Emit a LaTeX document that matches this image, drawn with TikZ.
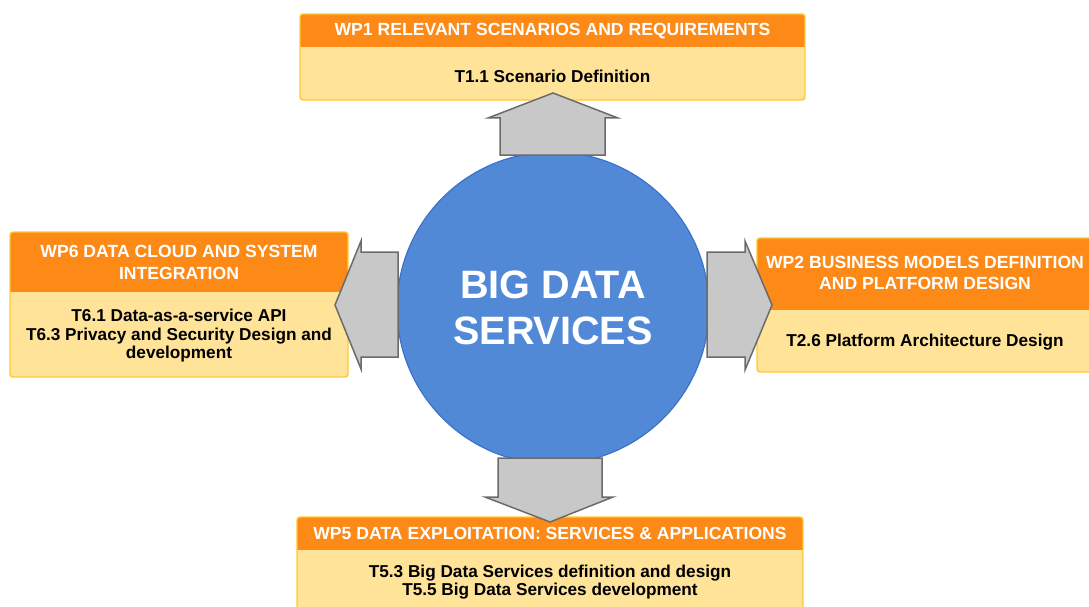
\documentclass[tikz,border=0pt]{standalone}
\usepackage{fontspec}
\setmainfont{Liberation Sans}
\definecolor{headorange}{HTML}{FD8A17}
\definecolor{bodyyellow}{HTML}{FFE399}
\definecolor{frameyellow}{HTML}{FFC832}
\definecolor{coreblue}{HTML}{5289D6}
\definecolor{coreedge}{HTML}{3B72CC}
\definecolor{arrowgrey}{HTML}{C8C8C8}
\definecolor{arrowedge}{HTML}{6B6B6B}
\begin{document}
\begin{tikzpicture}[x=1pt,y=-1pt,
  frame/.style={draw=frameyellow, line width=1.4pt, rounded corners=3pt},
  headtext/.style={text=white, font=\bfseries\fontsize{17.6}{21.5}\selectfont, align=center, inner sep=0pt},
  bodytext/.style={text=black, font=\bfseries\fontsize{17.2}{18.5}\selectfont, align=center, inner sep=0pt},
  coretext/.style={text=white, font=\bfseries\fontsize{39.6}{46}\selectfont, align=center, inner sep=0pt},
  blockarrow/.style={fill=arrowgrey, draw=arrowedge, line width=1.5pt, line join=miter},
]
\clip (0,0) rectangle (1089,607);
\useasboundingbox (0,0) rectangle (1089,607);

% work package box: #1 left, #2 top, #3 right, #4 header bottom, #5 bottom
\newcommand\wpframe[5]{%
  \begin{scope}
    \clip[rounded corners=3pt] (#1,#2) rectangle (#3,#5);
    \fill[bodyyellow] (#1,#2) rectangle (#3,#5);
    \fill[headorange] (#1,#2) rectangle (#3,#4);
  \end{scope}
  \draw[frame] (#1,#2) rectangle (#3,#5);
}

% central circle
\node[circle, fill=coreblue, draw=coreedge, line width=1.2pt, minimum size=312pt, inner sep=0pt] (core) at (553,308) {};
\node[coretext] (coretitle) at (553,308) {BIG DATA\\SERVICES};

% WP1 (top)
\wpframe{300}{14}{805}{47}{100}
\node[headtext] (wp1head) at (552.5,31) {WP1 RELEVANT SCENARIOS AND REQUIREMENTS};
\node[bodytext] (wp1body) at (552.5,76) {T1.1 Scenario Definition};

% WP6 (left)
\wpframe{10}{232}{348}{292}{377}
\node[headtext] (wp6head) at (179,262.5) {WP6 DATA CLOUD AND SYSTEM\\INTEGRATION};
\node[bodytext] (wp6body) at (179,336) {T6.1 Data-as-a-service API\\T6.3 Privacy and Security Design and\\development};

% WP2 (right)
\wpframe{757}{238}{1093}{310}{372}
\node[headtext] (wp2head) at (925,273) {WP2 BUSINESS MODELS DEFINITION\\AND PLATFORM DESIGN};
\node[bodytext] (wp2body) at (925,342) {T2.6 Platform Architecture Design};

% WP5 (bottom)
\wpframe{297}{517}{803}{550}{640}
\node[headtext] (wp5head) at (550,533.5) {WP5 DATA EXPLOITATION: SERVICES \& APPLICATIONS};
\node[bodytext] (wp5body) at (550,582) {T5.3 Big Data Services definition and design\\T5.5 Big Data Services development};

% block arrows from the circle out to each work package
\draw[blockarrow] (500,155) -- (500,118) -- (488,118) -- (553,93) -- (618,118) -- (605,118) -- (605,155) -- cycle;
\draw[blockarrow] (398,252) -- (361,252) -- (361,241) -- (335,305) -- (361,369) -- (361,357) -- (398,357) -- cycle;
\draw[blockarrow] (707,252) -- (745,252) -- (745,241) -- (772,305) -- (745,370) -- (745,357) -- (707,357) -- cycle;
\draw[blockarrow] (498,458) -- (498,497) -- (485,497) -- (550,522) -- (613,497) -- (602,497) -- (602,458) -- cycle;
\end{tikzpicture}
\end{document}
